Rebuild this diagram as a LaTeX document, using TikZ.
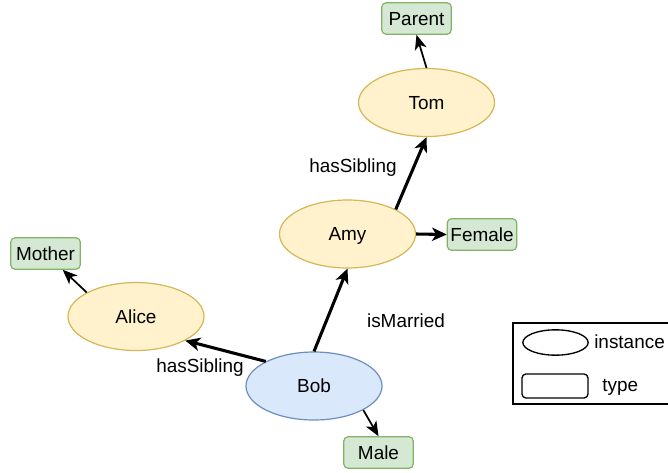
\documentclass[tikz,border=0pt]{standalone}
\usepackage{fontspec}
\setmainfont{Liberation Sans}
\usetikzlibrary{arrows.meta,shapes.geometric}

% draw.io colours
\definecolor{instfill}{HTML}{FFF2CC}
\definecolor{instline}{HTML}{D6B656}
\definecolor{bobfill}{HTML}{DAE8FC}
\definecolor{bobline}{HTML}{6C8EBF}
\definecolor{typefill}{HTML}{D5E8D4}
\definecolor{typeline}{HTML}{82B366}

\begin{document}
\begin{tikzpicture}[x=0.75pt, y=-0.75pt,
  every node/.style={font=\fontsize{14.2}{17}\selectfont, text height=10.2pt, text depth=0pt},
  instance/.style={ellipse, draw=instline, fill=instfill, line width=0.9pt,
    minimum width=102pt, minimum height=51pt, inner sep=0pt},
  typebox/.style={rectangle, rounded corners=3pt, draw=typeline, fill=typefill,
    line width=0.9pt, minimum width=52pt, minimum height=23.5pt, inner sep=0pt},
  thinarrow/.style={-{Stealth[length=11pt,width=9pt,inset=3pt]}, line width=1.3pt},
  thickarrow/.style={-{Stealth[length=11pt,width=10pt,inset=3pt]}, line width=2.3pt}]

  % Fix the size of the page
  \useasboundingbox (0,0) rectangle (668,472);

  % Instances
  \node[instance] (Tom) at (426.5,102.5) {Tom};
  \node[instance] (Amy) at (347.5,234) {Amy};
  \node[instance] (Alice) at (136,316.5) {Alice};
  \node[instance, draw=bobline, fill=bobfill] (Bob) at (314,386) {Bob};

  % Types
  \node[typebox] (Parent) at (416.5,18.5) {Parent};
  \node[typebox] (Female) at (482,234.5) {Female};
  \node[typebox] (Mother) at (45.5,253.5) {Mother};
  \node[typebox] (Male) at (378.5,452.5) {Male};

  % Type arrows
  \draw[thinarrow] (Tom.north) -- (Parent.south);
  \draw[thickarrow] (Amy.east) -- (Female.west);
  \draw[thinarrow] (Alice.154) -- (Mother);
  \draw[thinarrow] (Bob.-26) -- (Male.north);

  % Relations between instances
  \draw[thickarrow] (Amy.27) -- (Tom.south);
  \draw[thickarrow] (Bob.north) -- (Amy.south);
  \draw[thickarrow] (Bob.153) -- (Alice.-26);

  % Relation labels
  \node (sibTop) at (353,166) {hasSibling};
  \node (married) at (406,321) {isMarried};
  \node (sibLow) at (200,365.5) {hasSibling};

  % Legend
  \draw[line width=1pt] (670,323) -- (513,323) -- (513,404) -- (670,404);
  \node[ellipse, draw, line width=1pt, minimum width=49pt, minimum height=19pt,
    inner sep=0pt] (legInst) at (555.5,342.5) {};
  \node[rectangle, rounded corners=3pt, draw, line width=1pt, minimum width=49.5pt,
    minimum height=18pt, inner sep=0pt] (legType) at (555,386) {};
  \node[anchor=west, inner sep=0pt] (instLabel) at (594,342) {instance};
  \node[anchor=west, inner sep=0pt] (typeLabel) at (602,385) {type};

\end{tikzpicture}
\end{document}
